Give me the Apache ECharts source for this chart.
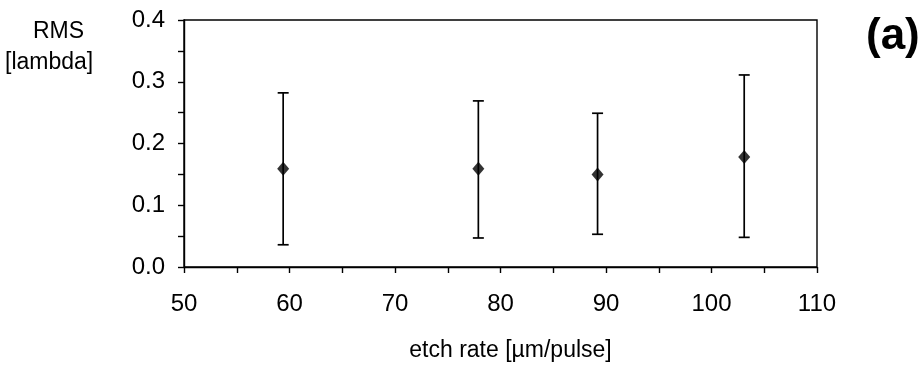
<!DOCTYPE html>
<html>
<head>
<meta charset="utf-8">
<script src="https://cdn.jsdelivr.net/npm/echarts@6/dist/echarts.min.js"></script>
<style>
  html, body { margin: 0; padding: 0; background: #fff; }
  #chart { width: 923px; height: 367px; }
</style>
</head>
<body>
<div id="chart"></div>
<script>
// etch rate [µm/pulse] vs RMS [lambda]
const etchRate = [59.4, 77.9, 89.2, 103.1];
const rmsMean = [0.159, 0.159, 0.150, 0.178];
const rmsLow = [0.036, 0.047, 0.053, 0.048];
const rmsHigh = [0.282, 0.269, 0.249, 0.311];

const FONT = 'Liberation Sans, Arial, sans-serif';

const chart = echarts.init(document.getElementById('chart'));

const points = etchRate.map((x, i) => [x, rmsMean[i]]);
const bars = etchRate.map((x, i) => [x, rmsLow[i], rmsHigh[i]]);

function renderErrorBar(params, api) {
  const x = api.value(0);
  const lo = api.coord([x, api.value(1)]);
  const hi = api.coord([x, api.value(2)]);
  const cap = 5.5;
  const style = { stroke: '#000', lineWidth: 1.7 };
  return {
    type: 'group',
    children: [
      { type: 'line', shape: { x1: lo[0], y1: lo[1], x2: hi[0], y2: hi[1] }, style },
      { type: 'line', shape: { x1: lo[0] - cap, y1: lo[1], x2: lo[0] + cap, y2: lo[1] }, style },
      { type: 'line', shape: { x1: hi[0] - cap, y1: hi[1], x2: hi[0] + cap, y2: hi[1] }, style }
    ]
  };
}

const option = {
  animation: false,
  backgroundColor: '#fff',
  grid: {
    left: 184, right: 106, top: 20, bottom: 97,
    show: true, borderColor: '#000', borderWidth: 1.4
  },
  xAxis: {
    type: 'value',
    min: 50, max: 110, interval: 5,
    axisLine: { show: true, onZero: false, lineStyle: { color: '#000', width: 1.4 } },
    axisTick: { show: true, inside: false, length: 6, lineStyle: { color: '#000', width: 1.4 } },
    splitLine: { show: false },
    axisLabel: {
      color: '#000', fontFamily: FONT, fontSize: 24, margin: 25,
      formatter: v => (Math.round(v) % 10 === 0 ? String(Math.round(v)) : '')
    },
    name: 'etch rate [µm/pulse]',
    nameLocation: 'middle',
    nameGap: 72,
    nameTextStyle: { color: '#000', fontFamily: FONT, fontSize: 23, padding: [0, 0, 0, 20] }
  },
  yAxis: {
    type: 'value',
    min: 0, max: 0.4, interval: 0.05,
    axisLine: { show: true, onZero: false, lineStyle: { color: '#000', width: 1.4 } },
    axisTick: { show: true, inside: false, length: 6, lineStyle: { color: '#000', width: 1.4 } },
    splitLine: { show: false },
    axisLabel: {
      color: '#000', fontFamily: FONT, fontSize: 24, margin: 19,
      formatter: v => (Math.round(v * 100) % 10 === 0 ? v.toFixed(1) : '')
    }
  },
  graphic: [
    { type: 'text', left: 33, top: 20, style: { text: 'RMS', fill: '#000', font: '23px ' + FONT } },
    { type: 'text', left: 5, top: 51, style: { text: '[lambda]', fill: '#000', font: '23px ' + FONT } },
    { type: 'text', left: 866, top: 15, style: { text: '(a)', fill: '#000', font: 'bold 44px ' + FONT } }
  ],
  series: [
    {
      type: 'custom',
      renderItem: renderErrorBar,
      data: bars,
      encode: { x: 0, y: [1, 2] },
      z: 2
    },
    {
      type: 'scatter',
      data: points,
      symbol: 'diamond',
      symbolSize: [12, 14],
      itemStyle: { color: '#000' },
      z: 3
    }
  ]
};

chart.setOption(option);
</script>
</body>
</html>
